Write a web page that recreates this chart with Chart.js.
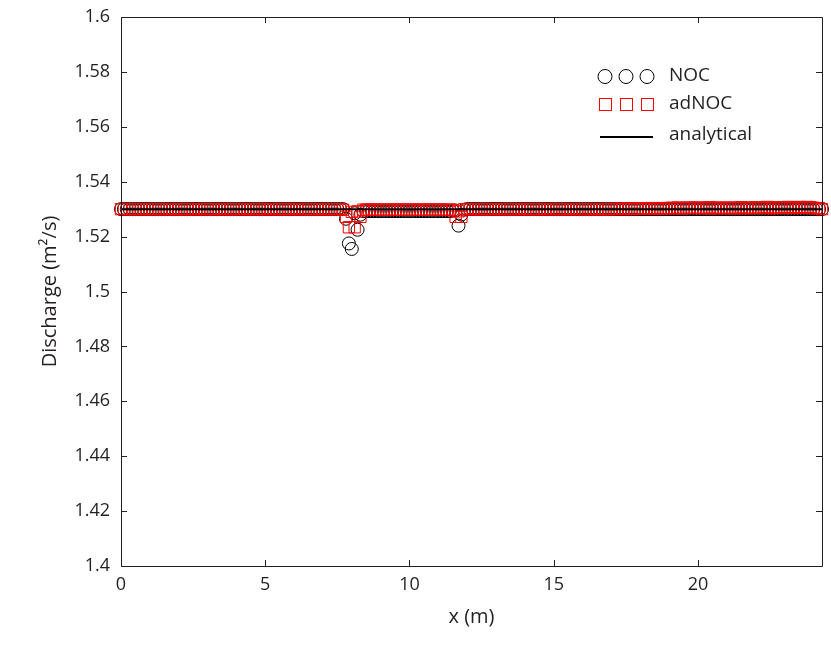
<!DOCTYPE html>
<html>
<head>
<meta charset="utf-8">
<script src="https://cdn.jsdelivr.net/npm/chart.js@4/dist/chart.umd.min.js"></script>
<style>
  html, body { margin: 0; padding: 0; background: #fff; }
  #wrap { width: 831px; height: 656px; }
</style>
</head>
<body>
<div id="wrap"><canvas id="dischargeChart" width="831" height="656"></canvas></div>
<script>
// Discharge along the channel - NOC vs adNOC vs analytical

// x positions (m)
const xs = [
  0.0, 0.1, 0.2, 0.3, 0.4, 0.5, 0.6, 0.7, 0.8, 0.9,
  1.0, 1.1, 1.2, 1.3, 1.4, 1.5, 1.6, 1.7, 1.8, 1.9,
  2.0, 2.1, 2.2, 2.3, 2.4, 2.5, 2.6, 2.7, 2.8, 2.9,
  3.0, 3.1, 3.2, 3.3, 3.4, 3.5, 3.6, 3.7, 3.8, 3.9,
  4.0, 4.1, 4.2, 4.3, 4.4, 4.5, 4.6, 4.7, 4.8, 4.9,
  5.0, 5.1, 5.2, 5.3, 5.4, 5.5, 5.6, 5.7, 5.8, 5.9,
  6.0, 6.1, 6.2, 6.3, 6.4, 6.5, 6.6, 6.7, 6.8, 6.9,
  7.0, 7.1, 7.2, 7.3, 7.4, 7.5, 7.6, 7.7, 7.8, 7.9,
  8.0, 8.1, 8.2, 8.3, 8.4, 8.5, 8.6, 8.7, 8.8, 8.9,
  9.0, 9.1, 9.2, 9.3, 9.4, 9.5, 9.6, 9.7, 9.8, 9.9,
  10.0, 10.1, 10.2, 10.3, 10.4, 10.5, 10.6, 10.7, 10.8, 10.9,
  11.0, 11.1, 11.2, 11.3, 11.4, 11.5, 11.6, 11.7, 11.8, 11.9,
  12.0, 12.1, 12.2, 12.3, 12.4, 12.5, 12.6, 12.7, 12.8, 12.9,
  13.0, 13.1, 13.2, 13.3, 13.4, 13.5, 13.6, 13.7, 13.8, 13.9,
  14.0, 14.1, 14.2, 14.3, 14.4, 14.5, 14.6, 14.7, 14.8, 14.9,
  15.0, 15.1, 15.2, 15.3, 15.4, 15.5, 15.6, 15.7, 15.8, 15.9,
  16.0, 16.1, 16.2, 16.3, 16.4, 16.5, 16.6, 16.7, 16.8, 16.9,
  17.0, 17.1, 17.2, 17.3, 17.4, 17.5, 17.6, 17.7, 17.8, 17.9,
  18.0, 18.1, 18.2, 18.3, 18.4, 18.5, 18.6, 18.7, 18.8, 18.9,
  19.0, 19.1, 19.2, 19.3, 19.4, 19.5, 19.6, 19.7, 19.8, 19.9,
  20.0, 20.1, 20.2, 20.3, 20.4, 20.5, 20.6, 20.7, 20.8, 20.9,
  21.0, 21.1, 21.2, 21.3, 21.4, 21.5, 21.6, 21.7, 21.8, 21.9,
  22.0, 22.1, 22.2, 22.3, 22.4, 22.5, 22.6, 22.7, 22.8, 22.9,
  23.0, 23.1, 23.2, 23.3, 23.4, 23.5, 23.6, 23.7, 23.8, 23.9,
  24.0, 24.1, 24.2, 24.3
];

// NOC discharge (m2/s)
const nocQ = [
  1.53, 1.53, 1.53, 1.53, 1.53, 1.53, 1.53, 1.53, 1.53, 1.53,
  1.53, 1.53, 1.53, 1.53, 1.53, 1.53, 1.53, 1.53, 1.53, 1.53,
  1.53, 1.53, 1.53, 1.53, 1.53, 1.53, 1.53, 1.53, 1.53, 1.53,
  1.53, 1.53, 1.53, 1.53, 1.53, 1.53, 1.53, 1.53, 1.53, 1.53,
  1.53, 1.53, 1.53, 1.53, 1.53, 1.53, 1.53, 1.53, 1.53, 1.53,
  1.53, 1.53, 1.53, 1.53, 1.53, 1.53, 1.53, 1.53, 1.53, 1.53,
  1.53, 1.53, 1.53, 1.53, 1.53, 1.53, 1.53, 1.53, 1.53, 1.53,
  1.53, 1.53, 1.53, 1.53, 1.53, 1.53, 1.53, 1.53, 1.5265, 1.5175,
  1.5155, 1.5285, 1.5225, 1.528, 1.5293, 1.5293, 1.5293, 1.5293, 1.5293, 1.5293,
  1.5293, 1.5293, 1.5293, 1.5293, 1.5293, 1.5293, 1.5293, 1.5293, 1.5293, 1.5293,
  1.5293, 1.5293, 1.5293, 1.5293, 1.5293, 1.5293, 1.5293, 1.5293, 1.5293, 1.5293,
  1.5293, 1.5293, 1.5293, 1.5293, 1.5293, 1.5295, 1.5295, 1.524, 1.528, 1.5298,
  1.53, 1.53, 1.53, 1.53, 1.53, 1.53, 1.53, 1.53, 1.53, 1.53,
  1.53, 1.53, 1.53, 1.53, 1.53, 1.53, 1.53, 1.53, 1.53, 1.53,
  1.53, 1.53, 1.53, 1.53, 1.53, 1.53, 1.53, 1.53, 1.53, 1.53,
  1.53, 1.53, 1.53, 1.53, 1.53, 1.53, 1.53, 1.53, 1.53, 1.53,
  1.53, 1.53, 1.53, 1.53, 1.53, 1.53, 1.53, 1.53, 1.53, 1.53,
  1.53, 1.53, 1.53, 1.53, 1.53, 1.53, 1.53, 1.53, 1.53, 1.53,
  1.53, 1.53, 1.53, 1.53, 1.53, 1.53, 1.53, 1.53, 1.53, 1.53,
  1.53, 1.53, 1.53, 1.53, 1.53, 1.53, 1.53, 1.53, 1.53, 1.53,
  1.53, 1.53, 1.53, 1.53, 1.53, 1.53, 1.53, 1.53, 1.53, 1.53,
  1.53, 1.53, 1.53, 1.53, 1.53, 1.53, 1.53, 1.53, 1.53, 1.53,
  1.53, 1.53, 1.53, 1.53, 1.53, 1.53, 1.53, 1.53, 1.53, 1.53,
  1.53, 1.53, 1.53, 1.53, 1.53, 1.53, 1.53, 1.53, 1.53, 1.53,
  1.53, 1.53, 1.53, 1.53
];

// adNOC discharge (m2/s)
const adnocQ = [
  1.53, 1.53, 1.53, 1.53, 1.53, 1.53, 1.53, 1.53, 1.53, 1.53,
  1.53, 1.53, 1.53, 1.53, 1.53, 1.53, 1.53, 1.53, 1.53, 1.53,
  1.53, 1.53, 1.53, 1.53, 1.53, 1.53, 1.53, 1.53, 1.53, 1.53,
  1.53, 1.53, 1.53, 1.53, 1.53, 1.53, 1.53, 1.53, 1.53, 1.53,
  1.53, 1.53, 1.53, 1.53, 1.53, 1.53, 1.53, 1.53, 1.53, 1.53,
  1.53, 1.53, 1.53, 1.53, 1.53, 1.53, 1.53, 1.53, 1.53, 1.53,
  1.53, 1.53, 1.53, 1.53, 1.53, 1.53, 1.53, 1.53, 1.53, 1.53,
  1.53, 1.53, 1.53, 1.53, 1.53, 1.53, 1.53, 1.5298, 1.5272, 1.5234,
  1.529, 1.5234, 1.5292, 1.5272, 1.5298, 1.5298, 1.5298, 1.5298, 1.5298, 1.5298,
  1.5298, 1.5298, 1.5298, 1.5298, 1.5298, 1.5298, 1.5298, 1.5298, 1.5298, 1.5298,
  1.5298, 1.5298, 1.5298, 1.5298, 1.5298, 1.5298, 1.5298, 1.5298, 1.5298, 1.5298,
  1.5298, 1.5298, 1.5298, 1.5298, 1.5298, 1.5296, 1.5272, 1.5292, 1.5272, 1.53,
  1.53, 1.53, 1.53, 1.53, 1.53, 1.53, 1.53, 1.53, 1.53, 1.53,
  1.53, 1.53, 1.53, 1.53, 1.53, 1.53, 1.53, 1.53, 1.53, 1.53,
  1.53, 1.53, 1.53, 1.53, 1.53, 1.53, 1.53, 1.53, 1.53, 1.53,
  1.53, 1.53, 1.53, 1.53, 1.53, 1.53, 1.53, 1.53, 1.53, 1.53,
  1.53, 1.53, 1.53, 1.53, 1.53, 1.53, 1.53, 1.53, 1.53, 1.53,
  1.53, 1.5301, 1.53, 1.5302, 1.53, 1.5301, 1.5302, 1.53, 1.5301, 1.5302,
  1.5302, 1.5303, 1.5301, 1.5303, 1.5304, 1.5302, 1.5303, 1.5301, 1.5304, 1.5303,
  1.5304, 1.5305, 1.5303, 1.5306, 1.5304, 1.5303, 1.5305, 1.5306, 1.5304, 1.5305,
  1.5306, 1.5304, 1.5303, 1.5305, 1.5307, 1.5304, 1.5303, 1.5306, 1.5305, 1.5303,
  1.5304, 1.5306, 1.5305, 1.5303, 1.5304, 1.5307, 1.5306, 1.5304, 1.5303, 1.5305,
  1.5307, 1.5305, 1.5304, 1.5306, 1.5308, 1.5305, 1.5303, 1.5306, 1.5307, 1.5305,
  1.5306, 1.5308, 1.5306, 1.5304, 1.5307, 1.5308, 1.5305, 1.5306, 1.5308, 1.5307,
  1.5305, 1.5303, 1.5304, 1.53
];

// analytical solution: constant discharge
const exactX = [0, 24.3];
const exactQ = [1.53, 1.53];

// axis ticks
const xTicks = [0, 5, 10, 15, 20];
const yTicks = [1.4, 1.42, 1.44, 1.46, 1.48, 1.5, 1.52, 1.54, 1.56, 1.58, 1.6];

const FONT = "'Open Sans', 'DejaVu Sans', sans-serif";
const INK = '#231f20';

function toPoints(x, y) {
    return x.map((v, i) => ({ x: v, y: y[i] }));
}

// Box around the plot with inward ticks on all four sides
const framePlugin = {
    id: 'frame',
    afterDatasetsDraw(chart) {
        const { ctx, chartArea: a, scales } = chart;
        const t = 6;
        ctx.save();
        ctx.strokeStyle = INK;
        ctx.lineWidth = 1;
        ctx.beginPath();
        ctx.rect(Math.round(a.left) + 0.5, Math.round(a.top) + 0.5,
                 Math.round(a.right - a.left), Math.round(a.bottom - a.top));
        xTicks.forEach(v => {
            const px = Math.round(scales.x.getPixelForValue(v)) + 0.5;
            ctx.moveTo(px, a.bottom); ctx.lineTo(px, a.bottom - t);
            ctx.moveTo(px, a.top); ctx.lineTo(px, a.top + t);
        });
        yTicks.forEach(v => {
            const py = Math.round(scales.y.getPixelForValue(v)) + 0.5;
            ctx.moveTo(a.left, py); ctx.lineTo(a.left + t, py);
            ctx.moveTo(a.right, py); ctx.lineTo(a.right - t, py);
        });
        ctx.stroke();
        ctx.restore();
    }
};

// Legend in the MATLAB style: three markers per entry, no box
const legendPlugin = {
    id: 'matlabLegend',
    afterDraw(chart) {
        const ctx = chart.ctx;
        const mx = [605, 626, 647];
        const textX = 669;
        ctx.save();
        ctx.lineWidth = 1;

        ctx.strokeStyle = '#000';
        mx.forEach(x => {
            ctx.beginPath();
            ctx.arc(x, 76.5, 7, 0, Math.PI * 2);
            ctx.stroke();
        });

        ctx.strokeStyle = '#f00';
        mx.forEach(x => {
            ctx.strokeRect(x - 6 + 0.5, 104 - 6 + 0.5, 12, 12);
        });

        ctx.strokeStyle = '#000';
        ctx.lineWidth = 2;
        ctx.beginPath();
        ctx.moveTo(600, 137);
        ctx.lineTo(653, 137);
        ctx.stroke();

        ctx.fillStyle = INK;
        ctx.font = `19px ${FONT}`;
        ctx.textBaseline = 'middle';
        ctx.textAlign = 'left';
        ctx.fillText('NOC', textX, 76);
        ctx.fillText('adNOC', textX, 104);
        ctx.fillText('analytical', textX, 135);
        ctx.restore();
    }
};

const chart = new Chart(document.getElementById('dischargeChart'), {
    type: 'scatter',
    data: {
        datasets: [
            {
                label: 'analytical',
                data: toPoints(exactX, exactQ),
                showLine: true,
                borderColor: '#000',
                borderWidth: 2,
                pointRadius: 0,
                fill: false,
                clip: false
            },
            {
                label: 'adNOC',
                data: toPoints(xs, adnocQ),
                showLine: false,
                pointStyle: 'rect',
                pointRadius: 8,
                pointBorderWidth: 1,
                borderColor: '#f00',
                pointBorderColor: '#f00',
                pointBackgroundColor: 'rgba(0,0,0,0)',
                clip: false
            },
            {
                label: 'NOC',
                data: toPoints(xs, nocQ),
                showLine: false,
                pointStyle: 'circle',
                pointRadius: 6.5,
                pointBorderWidth: 1,
                borderColor: '#000',
                pointBorderColor: '#000',
                pointBackgroundColor: 'rgba(0,0,0,0)',
                clip: false
            }
        ]
    },
    options: {
        responsive: false,
        animation: false,
        layout: { padding: { top: 17, right: 5, left: 0, bottom: 0 } },
        plugins: {
            legend: { display: false },
            tooltip: { enabled: false }
        },
        scales: {
            x: {
                type: 'linear',
                min: 0,
                max: 24.3,
                grid: { display: false, drawTicks: false },
                border: { display: false },
                ticks: {
                    stepSize: 5,
                    includeBounds: false,
                    padding: 8,
                    color: INK,
                    font: { family: FONT, size: 18 },
                    maxRotation: 0
                },
                title: {
                    display: true,
                    text: 'x (m)',
                    color: INK,
                    font: { family: FONT, size: 20 },
                    padding: { top: 0, bottom: 27 }
                },
                afterFit(scale) {
                    scale.height = 90;
                    scale.paddingLeft = 0;
                    scale.paddingRight = 0;
                }
            },
            y: {
                min: 1.4,
                max: 1.6,
                grid: { display: false, drawTicks: false },
                border: { display: false },
                ticks: {
                    stepSize: 0.02,
                    padding: 11,
                    color: INK,
                    font: { family: FONT, size: 18 },
                    callback: v => String(+v.toFixed(2))
                },
                title: {
                    display: true,
                    text: 'Discharge (m²/s)',
                    color: INK,
                    font: { family: FONT, size: 20 },
                    padding: { top: 38, bottom: 0 }
                },
                afterFit(scale) {
                    scale.width = 121;
                    // keep the label half-heights out of the layout
                    scale.paddingTop = 0;
                    scale.paddingBottom = 0;
                }
            }
        }
    },
    plugins: [framePlugin, legendPlugin]
});
</script>
</body>
</html>
